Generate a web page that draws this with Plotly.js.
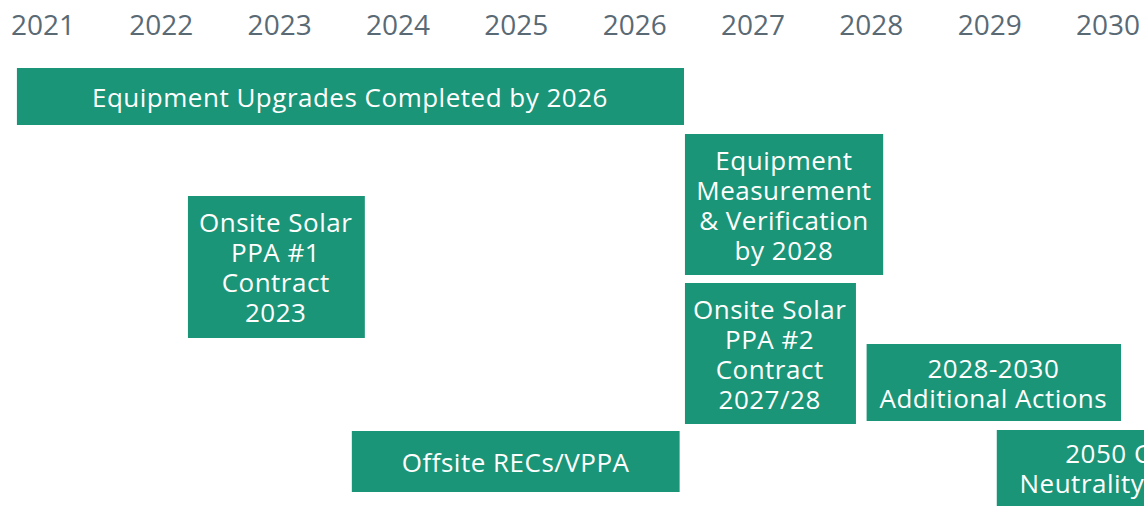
<!DOCTYPE html>
<html>
<head>
<meta charset="utf-8">
<script src="https://cdn.plot.ly/plotly-3.0.1.min.js"></script>
<style>
html,body{margin:0;padding:0;background:#fff;}
#chart{width:1144px;height:506px;}
#chart .annotation-text{letter-spacing:0.5px;}
</style>
</head>
<body>
<div id="chart"></div>
<script>
// Timeline years (tick labels)
const years = [2021, 2022, 2023, 2024, 2025, 2026, 2027, 2028, 2029, 2030];
const yearLabels = ["2021","2022","2023","2024","2025","2026","2027","2028","2029","2030"];

// Milestone boxes: start / end in fractional years, top / bottom in lane units
const labels = [
  "Equipment Upgrades Completed by 2026",
  "Onsite Solar<br>PPA #1<br>Contract<br>2023",
  "Equipment<br>Measurement<br>& Verification<br>by 2028",
  "Onsite Solar<br>PPA #2<br>Contract<br>2027/28",
  "2028-2030<br>Additional Actions",
  "Offsite RECs/VPPA",
  "2050 Carbon<br>Neutrality Roadmap"
];
const startYear = [2020.78, 2022.225, 2026.425, 2026.425, 2027.96, 2023.61, 2029.06];
const endYear   = [2026.417, 2023.72, 2028.10, 2027.87, 2030.11, 2026.38, 2031.58];
const topPos    = [68, 196, 134, 283, 344, 431, 430];
const bottomPos = [125, 338, 275, 424, 421, 492, 506];

const green = "#1b9577";
const textGrey = "#5a6a75";
const xRange = [2020.637, 2030.304];
const glyphSize = 26;   // text size inside the boxes
const spacingSize = 23; // base size that sets the line pitch (1.3em)

const shapes = [];
const annotations = [];
for (let i = 0; i < labels.length; i++) {
  shapes.push({
    type: "rect", xref: "x", yref: "y",
    x0: startYear[i], x1: endYear[i], y0: topPos[i], y1: bottomPos[i],
    fillcolor: green, line: {width: 0}, layer: "above"
  });
  const mid = (startYear[i] + endYear[i]) / 2;
  const offAxis = mid > xRange[1];
  const txt = labels[i].split("<br>")
    .map(l => '<span style="font-size:' + glyphSize + 'px">' + l + '</span>').join("<br>");
  annotations.push({
    xref: offAxis ? "paper" : "x", yref: "y",
    x: offAxis ? (mid - xRange[0]) / (xRange[1] - xRange[0]) : mid,
    xanchor: "center",
    y: (topPos[i] + bottomPos[i]) / 2,
    yanchor: "middle",
    text: txt, showarrow: false, align: "center",
    font: {family: "Open Sans, sans-serif", size: spacingSize, color: "#ffffff"}
  });
}

const trace = {x: [xRange[0]], y: [300], mode: "markers", marker: {opacity: 0}, hoverinfo: "skip", showlegend: false};

const layout = {
  width: 1144, height: 506,
  margin: {l: 0, r: 0, t: 42, b: 0},
  paper_bgcolor: "#ffffff", plot_bgcolor: "#ffffff",
  xaxis: {
    range: xRange, side: "top", tickvals: years, ticktext: yearLabels,
    showgrid: false, zeroline: false, showline: false, ticks: "",
    tickfont: {family: "Open Sans, sans-serif", size: 28, color: textGrey},
    fixedrange: true
  },
  yaxis: {range: [506, 42], visible: false, showgrid: false, zeroline: false, fixedrange: true},
  shapes: shapes,
  annotations: annotations,
  showlegend: false
};

Plotly.newPlot("chart", [trace], layout, {displayModeBar: false, staticPlot: true});
</script>
</body>
</html>
